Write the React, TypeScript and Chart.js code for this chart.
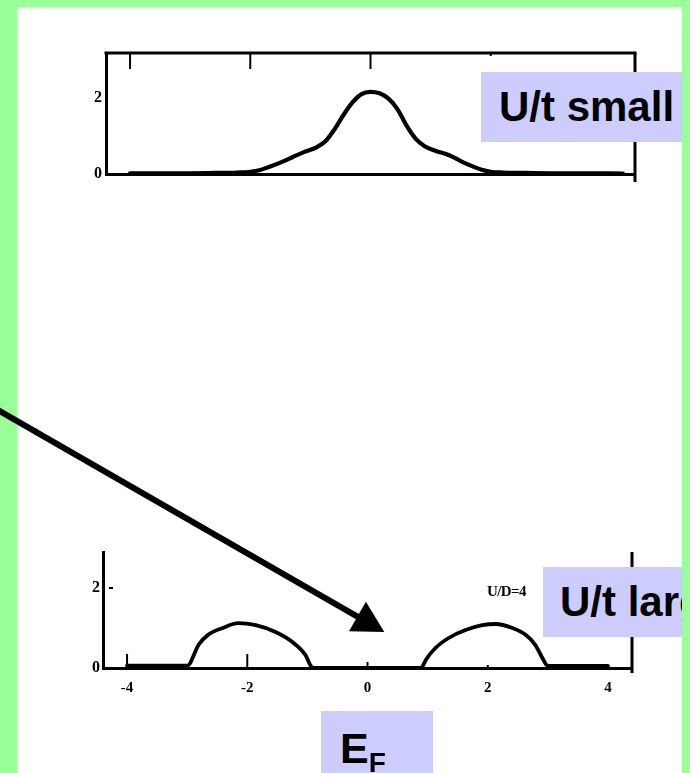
import React, { useEffect, useRef } from "react";
import { Chart, registerables } from "chart.js";

Chart.register(...registerables);

const W = 690;
const H = 773;

// ---- Top panel (U/t small): density of states ----
const topX = [-4, -3, -2.5, -2.2, -2.0, -1.85, -1.7, -1.5, -1.3, -1.1, -0.9, -0.75, -0.6, -0.45, -0.3, -0.15, 0, 0.15, 0.3, 0.45, 0.6, 0.75, 0.9, 1.1, 1.3, 1.5, 1.7, 1.85, 2.0, 2.2, 2.5, 3, 3.5, 4.2];
const topY = [0.02, 0.02, 0.03, 0.04, 0.06, 0.1, 0.18, 0.3, 0.44, 0.58, 0.7, 0.86, 1.17, 1.55, 1.88, 2.1, 2.16, 2.12, 1.98, 1.7, 1.27, 0.93, 0.73, 0.6, 0.5, 0.34, 0.2, 0.11, 0.06, 0.04, 0.03, 0.02, 0.02, 0.01];
const topYTickValues = [0, 2];
const topInnerTicks = [-4, -2, 0, 2];

// ---- Bottom panel (U/t large, U/D=4): two Hubbard bands ----
const botX = [-4, -3.0, -2.95, -2.91, -2.81, -2.65, -2.41, -2.15, -1.86, -1.53, -1.25, -1.03, -0.95, -0.9, 0, 0.88, 0.92, 0.97, 1.13, 1.35, 1.63, 1.91, 2.13, 2.41, 2.63, 2.79, 2.91, 2.99, 3.05, 4];
const botY = [0.06, 0.06, 0.12, 0.25, 0.58, 0.83, 1.0, 1.12, 1.07, 0.9, 0.65, 0.32, 0.07, 0, 0, 0, 0.05, 0.2, 0.5, 0.75, 0.95, 1.07, 1.1, 1.0, 0.83, 0.58, 0.25, 0.06, 0.05, 0.05];
const botXTickValues = [-4, -2, 0, 2, 4];
const botYTickValues = [0, 2];
const botInnerTicks = [-4, -2, 0, 2];

// Arrow pointing at the Fermi level gap (in bottom-panel data units)
const arrowFrom = { x: -6.15, y: 6.45 };
const arrowTo = { x: 0.28, y: 0.9 };

const labelSmall = "U/t small";
const labelLarge = "U/t large";
const labelUD = "U/D=4";

const xTickFont = { family: "Liberation Serif", weight: "bold" as const, size: 15 };
const yTickFont = { family: "Liberation Serif", weight: "bold" as const, size: 16 };

const framePlugin = {
  id: "frame",
  afterDraw(chart: any, _args: any, opts: any) {
    const { ctx, chartArea: a, scales } = chart;
    ctx.save();
    ctx.strokeStyle = "#000";
    ctx.fillStyle = "#000";
    ctx.lineCap = "butt";
    if (opts.top) {
      ctx.lineWidth = opts.lw;
      ctx.beginPath();
      ctx.moveTo(a.left - opts.lw / 2, a.top);
      ctx.lineTo(a.right + opts.lw / 2, a.top);
      ctx.stroke();
    }
    if (opts.right) {
      ctx.lineWidth = opts.lw;
      ctx.beginPath();
      ctx.moveTo(a.right, a.top);
      ctx.lineTo(a.right, a.bottom + (opts.rightExtra || 0));
      ctx.stroke();
    }
    (opts.xTicks || []).forEach((v: number, i: number) => {
      const x = scales.x.getPixelForValue(v);
      const len = opts.xTickLens[i];
      ctx.lineWidth = 2;
      ctx.beginPath();
      if (opts.xTickSide === "top") {
        ctx.moveTo(x, a.top);
        ctx.lineTo(x, a.top + len);
      } else {
        ctx.moveTo(x, a.bottom);
        ctx.lineTo(x, a.bottom - len);
      }
      ctx.stroke();
    });
    (opts.yTicks || []).forEach((v: number) => {
      const y = scales.y.getPixelForValue(v);
      ctx.lineWidth = 2;
      ctx.beginPath();
      ctx.moveTo(a.left + 6, y);
      ctx.lineTo(a.left + 10, y);
      ctx.stroke();
    });
    if (opts.arrow) {
      const x0 = scales.x.getPixelForValue(opts.arrow.from.x);
      const y0 = scales.y.getPixelForValue(opts.arrow.from.y);
      const x1 = scales.x.getPixelForValue(opts.arrow.to.x);
      const y1 = scales.y.getPixelForValue(opts.arrow.to.y);
      const dx = x1 - x0, dy = y1 - y0;
      const L = Math.hypot(dx, dy);
      const ux = dx / L, uy = dy / L;
      const head = 31, half = 17;
      const bx = x1 - ux * head, by = y1 - uy * head;
      ctx.lineWidth = 6;
      ctx.beginPath();
      ctx.moveTo(x0, y0);
      ctx.lineTo(bx + ux * 2, by + uy * 2);
      ctx.stroke();
      ctx.beginPath();
      ctx.moveTo(x1, y1);
      ctx.lineTo(bx - uy * half, by + ux * half);
      ctx.lineTo(bx + uy * half, by - ux * half);
      ctx.closePath();
      ctx.fill();
    }
    ctx.restore();
  },
};

function makeConfig(kind: "top" | "bottom"): any {
  const isTop = kind === "top";
  const xs = isTop ? topX : botX;
  const ys = isTop ? topY : botY;
  const area = isTop
    ? { left: 106, right: 635, top: 53, bottom: 174 }
    : { left: 103, right: 632, top: 552, bottom: 668 };
  const xAxisH = isTop ? 20 : 40;
  const yTicks = isTop ? topYTickValues : botYTickValues;
  return {
    type: "line",
    data: {
      datasets: [
        {
          data: xs.map((x, i) => ({ x, y: ys[i] })),
          borderColor: "#000",
          borderWidth: isTop ? 4.2 : 3.8,
          pointRadius: 0,
          fill: false,
          cubicInterpolationMode: "monotone",
          borderJoinStyle: "round",
          borderCapStyle: "round",
        },
      ],
    },
    options: {
      responsive: false,
      animation: false,
      events: [],
      layout: {
        padding: {
          left: 0,
          top: area.top,
          right: W - area.right,
          bottom: H - area.bottom - xAxisH,
        },
      },
      plugins: {
        legend: { display: false },
        tooltip: { enabled: false },
        frame: {
          lw: 3,
          top: isTop,
          right: true,
          rightExtra: isTop ? 8 : 5,
          xTicks: isTop ? topInnerTicks : botInnerTicks,
          xTickLens: isTop ? [16, 16, 16, 3] : [14, 14, 6, 3],
          xTickSide: isTop ? "top" : "bottom",
          yTicks: isTop ? [] : [2],
          arrow: isTop ? null : { from: arrowFrom, to: arrowTo },
        },
      },
      scales: {
        x: {
          type: "linear",
          min: -4.4,
          max: 4.4,
          afterFit: (s: any) => {
            s.height = xAxisH;
          },
          grid: { display: false, drawTicks: false },
          border: { display: true, color: "#000", width: 3 },
          ticks: {
            display: !isTop,
            stepSize: 2,
            includeBounds: false,
            padding: 11,
            color: "#000",
            font: xTickFont,
          },
          afterBuildTicks: (s: any) => {
            if (!isTop) s.ticks = botXTickValues.map((v) => ({ value: v }));
          },
        },
        y: {
          type: "linear",
          min: 0,
          max: isTop ? 3.18 : 2.9,
          afterFit: (s: any) => {
            s.width = area.left;
          },
          afterBuildTicks: (s: any) => {
            s.ticks = yTicks.map((v) => ({ value: v }));
          },
          grid: { display: false, drawTicks: false },
          border: { display: true, color: "#000", width: 3 },
          ticks: {
            padding: isTop ? 4 : 3,
            color: "#000",
            font: yTickFont,
          },
        },
      },
    },
    plugins: [framePlugin],
  };
}

const boxBase: React.CSSProperties = {
  position: "absolute",
  background: "#ccccff",
  color: "#000",
  fontFamily: "'Liberation Sans', Arial, sans-serif",
  fontWeight: "bold",
  whiteSpace: "nowrap",
  boxSizing: "border-box",
};

export default function App() {
  const topRef = useRef<HTMLCanvasElement>(null);
  const botRef = useRef<HTMLCanvasElement>(null);

  useEffect(() => {
    document.body.style.margin = "0";
    document.body.style.overflow = "hidden";
    const c1 = new Chart(topRef.current as HTMLCanvasElement, makeConfig("top"));
    const c2 = new Chart(botRef.current as HTMLCanvasElement, makeConfig("bottom"));
    return () => {
      c1.destroy();
      c2.destroy();
    };
  }, []);

  const px = 17;
  const py = 7;

  return (
    <div
      style={{
        position: "absolute",
        left: 0,
        top: 0,
        width: W,
        height: H,
        background: "#99ff99",
        overflow: "hidden",
      }}
    >
      <div style={{ position: "absolute", left: px, top: py, width: 665, height: H, background: "#fff" }} />
      <canvas ref={topRef} width={W} height={H} style={{ position: "absolute", left: 0, top: 0, width: W, height: H }} />
      <canvas ref={botRef} width={W} height={H} style={{ position: "absolute", left: 0, top: 0, width: W, height: H }} />
      <div
        style={{
          position: "absolute",
          left: px,
          top: py,
          width: 665,
          height: H,
          overflow: "hidden",
          pointerEvents: "none",
        }}
      >
        <div
          style={{
            ...boxBase,
            left: 481 - px,
            top: 72 - py,
            width: 220,
            height: 70,
            lineHeight: "70px",
            fontSize: 42,
            paddingLeft: 18,
          }}
        >
          {labelSmall}
        </div>
        <div
          style={{
            ...boxBase,
            left: 543 - px,
            top: 567 - py,
            width: 220,
            height: 70,
            lineHeight: "70px",
            fontSize: 42,
            paddingLeft: 17,
          }}
        >
          {labelLarge}
        </div>
        <div
          style={{
            position: "absolute",
            left: 487 - px,
            top: 583 - py,
            fontFamily: "'Liberation Serif', serif",
            fontWeight: "bold",
            fontSize: 15,
            letterSpacing: -0.6,
            lineHeight: "16px",
            color: "#000",
            whiteSpace: "nowrap",
          }}
        >
          {labelUD}
        </div>
        <div
          style={{
            ...boxBase,
            left: 321 - px,
            top: 711 - py,
            width: 112,
            height: 74,
            lineHeight: "74px",
            fontSize: 43,
            paddingLeft: 19,
          }}
        >
          E
          <span style={{ fontSize: 28, position: "relative", top: 9 }}>F</span>
        </div>
      </div>
    </div>
  );
}
